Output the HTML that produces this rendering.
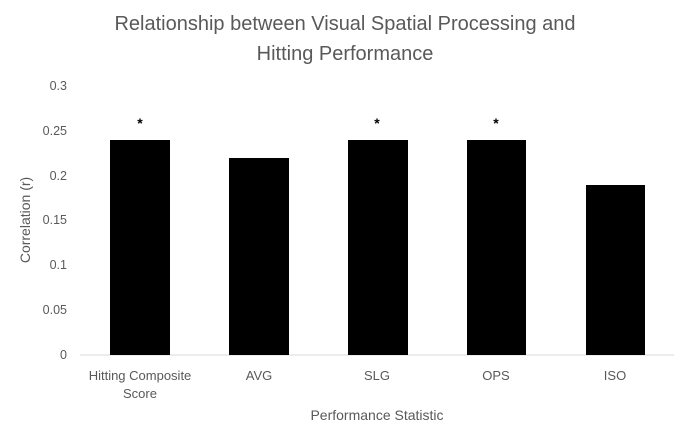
<!DOCTYPE html>
<html><head><style>body{margin:0;background:#fff}</style></head><body>
<svg width="690" height="442" xmlns="http://www.w3.org/2000/svg" font-family="Liberation Sans, sans-serif">
<rect width="690" height="442" fill="#fff"/>
<text x="345" y="30" font-size="20" fill="#595959" text-anchor="middle">Relationship between Visual Spatial Processing and</text>
<text x="345" y="60" font-size="20" fill="#595959" text-anchor="middle">Hitting Performance</text>
<g font-size="12.5" fill="#595959" text-anchor="end">
<text x="67" y="359">0</text><text x="67" y="314">0.05</text><text x="67" y="269">0.1</text>
<text x="67" y="224">0.15</text><text x="67" y="180">0.2</text><text x="67" y="135">0.25</text><text x="67" y="90">0.3</text>
</g>
<line x1="80" y1="355" x2="674" y2="355" stroke="#d9d9d9" stroke-width="1"/>
<g fill="#000">
<rect x="110" y="140" width="60" height="215"/>
<rect x="229" y="158" width="60" height="197"/>
<rect x="348" y="140" width="60" height="215"/>
<rect x="467" y="140" width="59" height="215"/>
<rect x="586" y="185" width="59" height="170"/>
</g>
<g font-size="14" font-weight="bold" text-anchor="middle">
<text x="140" y="128">*</text><text x="377" y="128">*</text><text x="496" y="128">*</text>
</g>
<g font-size="13" fill="#595959" text-anchor="middle">
<text x="140" y="380">Hitting Composite</text><text x="140" y="398">Score</text>
<text x="259" y="380">AVG</text><text x="377" y="380">SLG</text>
<text x="496" y="380">OPS</text><text x="615" y="380">ISO</text>
</g>
<text x="377" y="420" font-size="14" fill="#595959" text-anchor="middle">Performance Statistic</text>
<text transform="translate(30,220) rotate(-90)" font-size="14" fill="#595959" text-anchor="middle">Correlation (r)</text>
</svg>
</body></html>
